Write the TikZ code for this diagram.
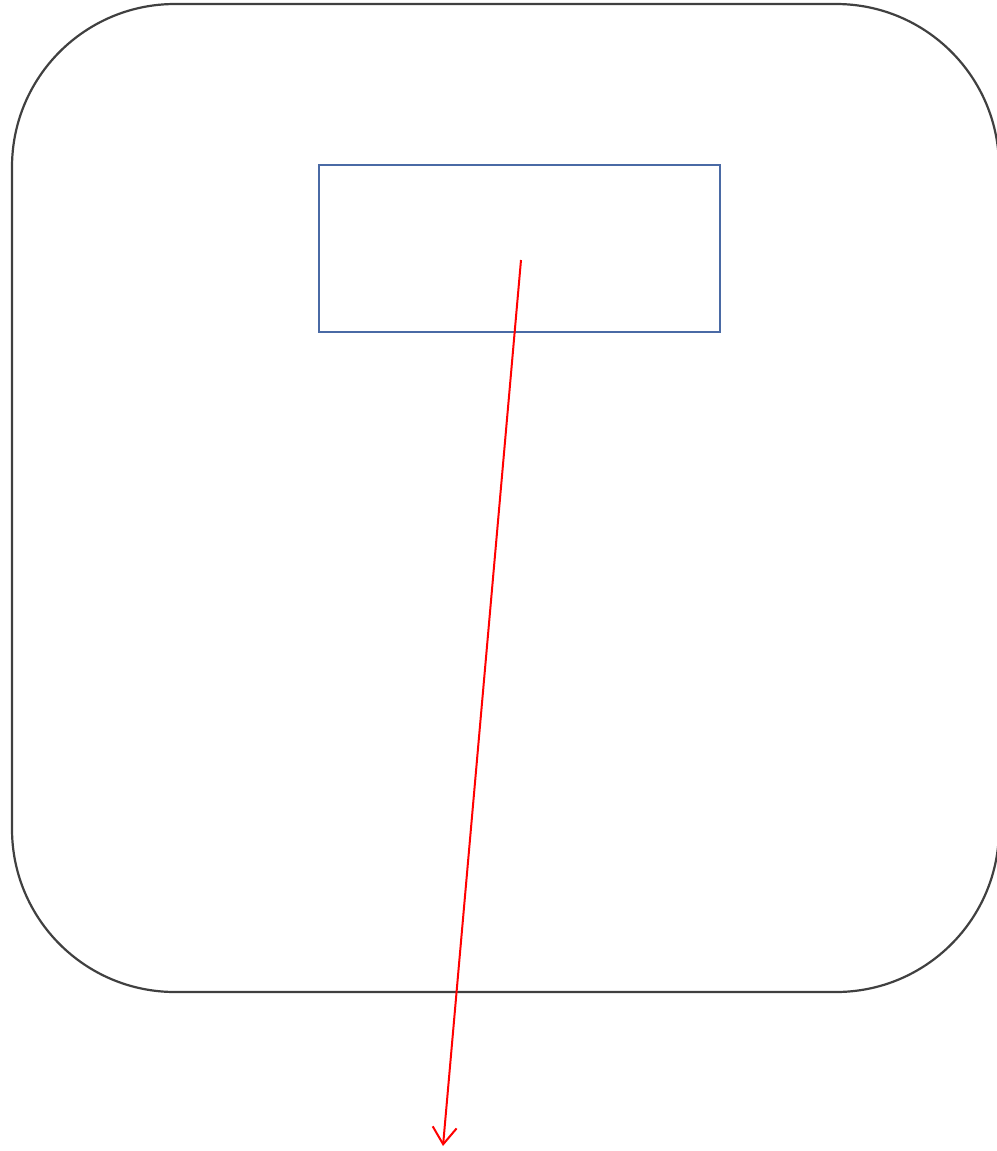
\documentclass[tikz,border=0pt]{standalone}
\usetikzlibrary{arrows.meta}
\definecolor{caseline}{HTML}{404040}
\definecolor{panelline}{HTML}{4A6AA5}
\begin{document}
\begin{tikzpicture}[
  x=1pt, y=-1pt,
  casebox/.style={rectangle, draw=caseline, line width=2.2pt, inner sep=0pt,
                  minimum width=987pt, minimum height=988pt, rounded corners=163pt},
  panel/.style={rectangle, draw=panelline, line width=2pt, inner sep=0pt,
                minimum width=401pt, minimum height=167pt},
  arr/.style={-{Straight Barb[length=17pt, width=24pt, line width=2pt]}, red, line width=2pt}
]
  \useasboundingbox (0,0) rectangle (996,1151);

  % Outer case
  \node[casebox] (case) at (505.5, 498) {};

  % Panel
  \node[panel] (disp) at (519.5, 248.5) {};

  % Pointer
  \coordinate (src) at (521, 260);
  \coordinate (tip) at (443, 1146);
  \draw[arr] (src) -- (tip);
\end{tikzpicture}
\end{document}
